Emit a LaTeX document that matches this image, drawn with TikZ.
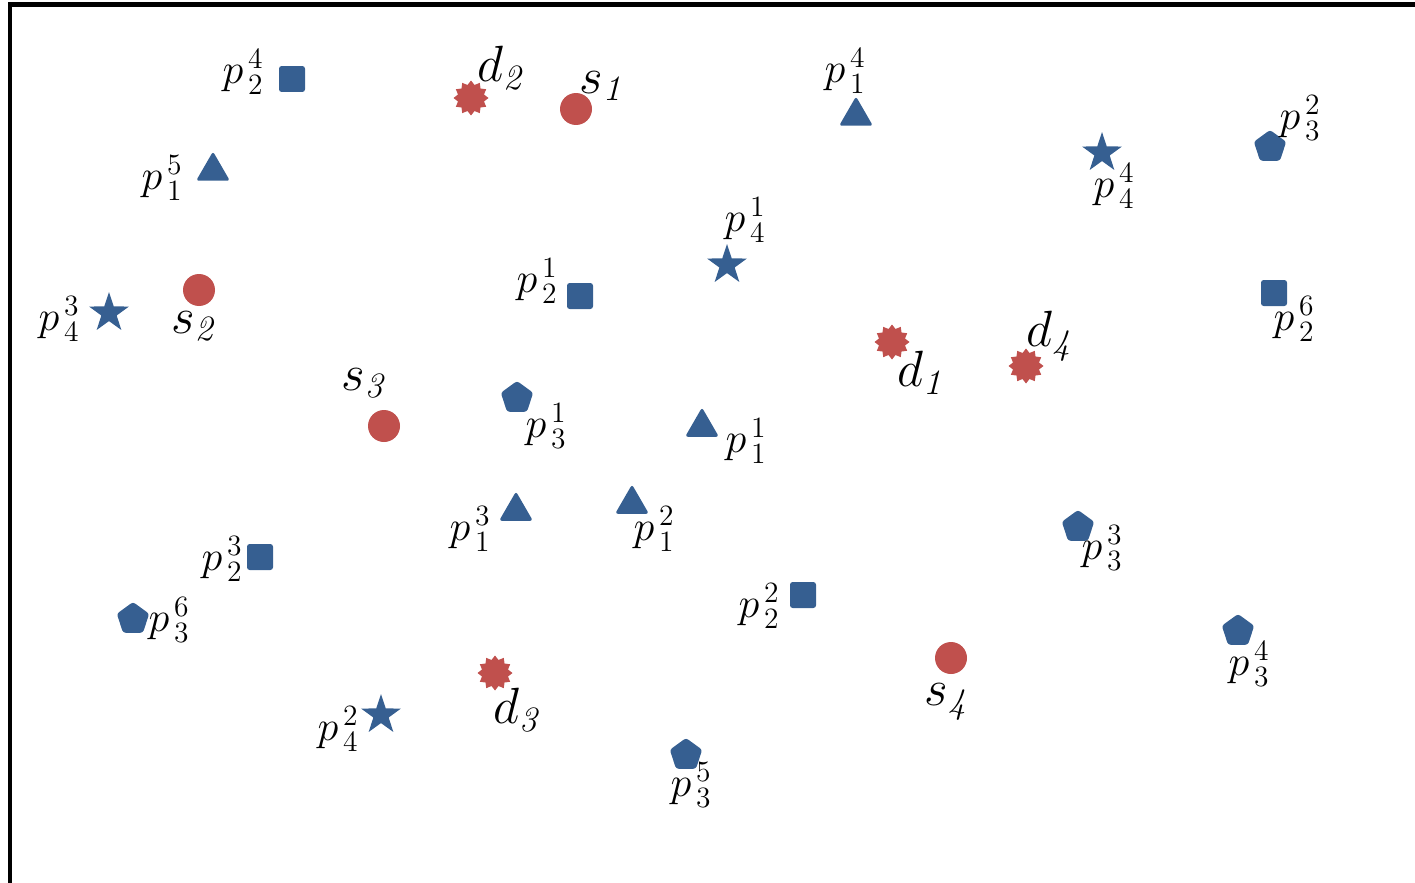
\RequirePackage{fix-cm}
\documentclass[tikz,border=0pt]{standalone}
\usepackage{amsmath,amssymb}
\usepackage{xcolor}
\usepackage{tikz}
\usetikzlibrary{shapes.geometric, positioning}
\definecolor{nodered}{RGB}{192, 80, 77}
\definecolor{nodeblue}{RGB}{54, 95, 145}

\begin{document}
\begin{tikzpicture}[
    x=0.02cm, y=-0.02cm,
    source/.style={
        circle, fill=nodered, draw=none,
        minimum size=0.64cm, inner sep=0pt
    },
    dest/.style={
        star, star points=12, star point ratio=1.3,
        fill=nodered, draw=none,
        minimum size=0.7cm, inner sep=0pt
    },
    sqpt/.style={
        rectangle, rounded corners=1.5pt, fill=nodeblue, draw=none,
        minimum size=0.52cm, inner sep=0pt
    },
    tript/.style={
        regular polygon, regular polygon sides=3, rounded corners=1.5pt,
        fill=nodeblue, draw=none,
        minimum size=0.78cm, inner sep=0pt
    },
    pentpt/.style={
        regular polygon, regular polygon sides=5, rounded corners=1.5pt,
        fill=nodeblue, draw=none,
        minimum size=0.68cm, inner sep=0pt
    },
    starpt/.style={
        star, star points=5, star point ratio=2.6,
        fill=nodeblue, draw=none,
        minimum size=0.84cm, inner sep=0pt
    },
    biglabel/.style={font=\fontsize{29}{33}\selectfont, inner sep=0pt},
    smalllabel/.style={font=\fontsize{24}{28}\selectfont, inner sep=0pt}
]

% ==============================================================================
% FRAME
% ==============================================================================
\useasboundingbox (0,0) rectangle (1415,882);
\clip (0,0) rectangle (1415,882);
\draw[line width=0.1cm] (10,5) rectangle (1440,910);

% ==============================================================================
% SOURCES (s) AND DESTINATIONS (d)
% ==============================================================================
\node[source] (s1) at (576,109) {};
\node[source] (s2) at (199,290) {};
\node[source] (s3) at (384,426) {};
\node[source] (s4) at (951,658) {};

\node[biglabel] (ls1) at (603,86) {$s_{\mathit{1}}$};
\node[biglabel] (ls2) at (195,326) {$s_{\mathit{2}}$};
\node[biglabel] (ls3) at (365,383) {$s_{\mathit{3}}$};
\node[biglabel] (ls4) at (948,702) {$s_{\mathit{4}}$};

\node[dest] (d1) at (892,342) {};
\node[dest] (d2) at (471,98) {};
\node[dest] (d3) at (495,673) {};
\node[dest] (d4) at (1026,366) {};

\node[biglabel] (ld1) at (922,373) {$d_{\mathit{1}}$};
\node[biglabel] (ld2) at (502,68) {$d_{\mathit{2}}$};
\node[biglabel] (ld3) at (518,710) {$d_{\mathit{3}}$};
\node[biglabel] (ld4) at (1051,336) {$d_{\mathit{4}}$};

% ==============================================================================
% TRIANGLES (p_1)
% ==============================================================================
\node[tript] (p11) at (702,427) {};
\node[tript] (p12) at (632,504) {};
\node[tript] (p13) at (516,511) {};
\node[tript] (p14) at (856,116) {};
\node[tript] (p15) at (213,171) {};

\node[smalllabel] (lp11) at (746,441) {$p^{\,1}_{\,1}$};
\node[smalllabel] (lp12) at (654,529) {$p^{\,2}_{\,1}$};
\node[smalllabel] (lp13) at (470,529) {$p^{\,3}_{\,1}$};
\node[smalllabel] (lp14) at (845,71) {$p^{\,4}_{\,1}$};
\node[smalllabel] (lp15) at (162,178) {$p^{\,5}_{\,1}$};

% ==============================================================================
% SQUARES (p_2)
% ==============================================================================
\node[sqpt] (p21) at (580,296) {};
\node[sqpt] (p22) at (803,595) {};
\node[sqpt] (p23) at (260,557) {};
\node[sqpt] (p24) at (292,79) {};
\node[sqpt] (p26) at (1274,293) {};

\node[smalllabel] (lp21) at (537,281) {$p^{\,1}_{\,2}$};
\node[smalllabel] (lp22) at (759,606) {$p^{\,2}_{\,2}$};
\node[smalllabel] (lp23) at (222,559) {$p^{\,3}_{\,2}$};
\node[smalllabel] (lp24) at (243,72) {$p^{\,4}_{\,2}$};
\node[smalllabel] (lp26) at (1294,319) {$p^{\,6}_{\,2}$};

% ==============================================================================
% PENTAGONS (p_3)
% ==============================================================================
\node[pentpt] (p31) at (517,398) {};
\node[pentpt] (p32) at (1270,147) {};
\node[pentpt] (p33) at (1078,527) {};
\node[pentpt] (p34) at (1238,631) {};
\node[pentpt] (p35) at (686,755) {};
\node[pentpt] (p36) at (133,619) {};

\node[smalllabel] (lp31) at (546,426) {$p^{\,1}_{\,3}$};
\node[smalllabel] (lp32) at (1300,118) {$p^{\,2}_{\,3}$};
\node[smalllabel] (lp33) at (1102,548) {$p^{\,3}_{\,3}$};
\node[smalllabel] (lp34) at (1249,664) {$p^{\,4}_{\,3}$};
\node[smalllabel] (lp35) at (691,785) {$p^{\,5}_{\,3}$};
\node[smalllabel] (lp36) at (169,620) {$p^{\,6}_{\,3}$};

% ==============================================================================
% STARS (p_4)
% ==============================================================================
\node[starpt] (p41) at (727,265) {};
\node[starpt] (p42) at (381,715) {};
\node[starpt] (p43) at (109,313) {};
\node[starpt] (p44) at (1102,153) {};

\node[smalllabel] (lp41) at (745,220) {$p^{\,1}_{\,4}$};
\node[smalllabel] (lp42) at (338,729) {$p^{\,2}_{\,4}$};
\node[smalllabel] (lp43) at (59,319) {$p^{\,3}_{\,4}$};
\node[smalllabel] (lp44) at (1114,186) {$p^{\,4}_{\,4}$};

\end{tikzpicture}
\end{document}
